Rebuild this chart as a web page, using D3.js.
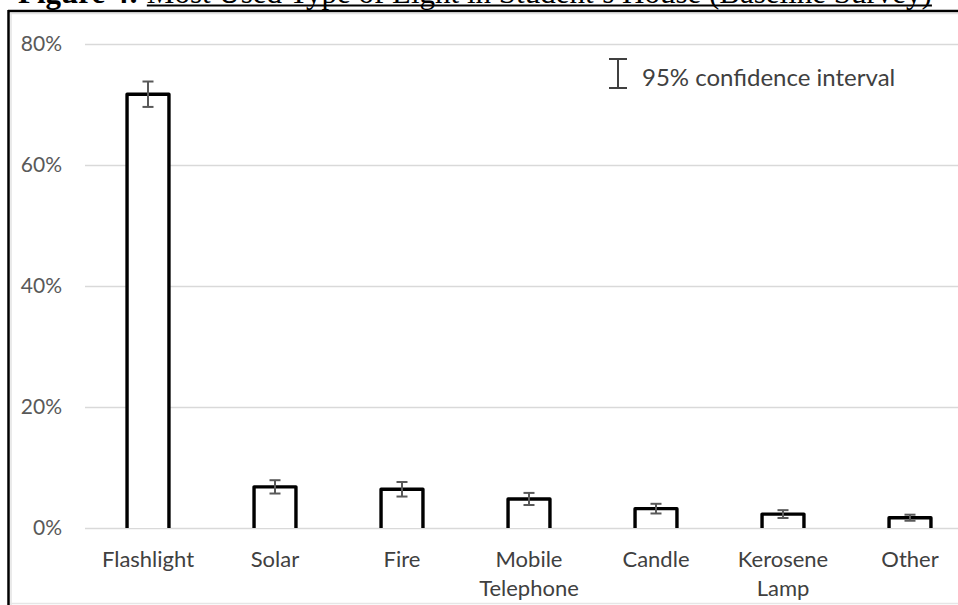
<!DOCTYPE html>
<html>
<head>
<meta charset="utf-8">
<script src="https://cdn.jsdelivr.net/npm/d3@7"></script>
<style>
  html, body { margin: 0; padding: 0; background: #fff; overflow: hidden; }
  svg { display: block; }
</style>
</head>
<body>
<svg id="chart" width="958" height="605"></svg>
<script>
// Most used type of light, share of students (with 95% CI half-widths)
const categories = ["Flashlight", "Solar", "Fire", "Mobile Telephone", "Candle", "Kerosene Lamp", "Other"];
const labelLines = [["Flashlight"], ["Solar"], ["Fire"], ["Mobile", "Telephone"], ["Candle"], ["Kerosene", "Lamp"], ["Other"]];
const shares = [0.717, 0.068, 0.064, 0.048, 0.032, 0.023, 0.017];
const ciHalf = [0.021, 0.011, 0.012, 0.010, 0.008, 0.0065, 0.005];
const yTicks = [0, 0.2, 0.4, 0.6, 0.8];
const titleLead = "Figure 4:";
const titleRest = "Most Used Type of Light in Student\u2019s House (Baseline Survey)";
const legendText = "95% confidence interval";

const W = 958, H = 605;
const svg = d3.select("#chart");
svg.append("rect").attr("width", W).attr("height", H).attr("fill", "#fff");

const sans = "Lato, 'Open Sans', sans-serif";

// Title (sits above the chart frame, mostly outside the page)
const title = svg.append("text")
  .attr("x", 18).attr("y", 3)
  .attr("font-family", "'Liberation Serif', 'Times New Roman', serif")
  .attr("font-size", 31)
  .attr("fill", "#000");
title.append("tspan").attr("font-weight", "bold").text(titleLead);
const restSpan = title.append("tspan").attr("dx", 8).text(titleRest);
const bb = restSpan.node().getBBox();
svg.append("line")
  .attr("x1", bb.x).attr("x2", bb.x + bb.width)
  .attr("y1", 5.5).attr("y2", 5.5)
  .attr("stroke", "#000").attr("stroke-width", 2);

// Chart frame
svg.append("line").attr("x1", 8).attr("x2", W).attr("y1", 11).attr("y2", 11)
  .attr("stroke", "#000").attr("stroke-width", 2.5);
svg.append("line").attr("x1", 8.5).attr("x2", 8.5).attr("y1", 10).attr("y2", H)
  .attr("stroke", "#000").attr("stroke-width", 2.5);
svg.append("line").attr("x1", 10).attr("x2", W).attr("y1", 13.5).attr("y2", 13.5)
  .attr("stroke", "#e3e3e3").attr("stroke-width", 1.5);
svg.append("line").attr("x1", 11).attr("x2", 11).attr("y1", 13).attr("y2", H)
  .attr("stroke", "#e3e3e3").attr("stroke-width", 1.5);
svg.append("line").attr("x1", 10).attr("x2", W).attr("y1", 603.5).attr("y2", 603.5)
  .attr("stroke", "#e6e6e6").attr("stroke-width", 1.5);

// Scales
const y = d3.scaleLinear().domain([0, 0.8]).range([528, 44]);
const x = d3.scaleBand().domain(categories).range([84.5, 973.5])
  .paddingInner(0.67).paddingOuter(0.335);

// Gridlines and y-axis labels
const yAxis = d3.axisLeft(y).tickValues(yTicks).tickFormat(d3.format(".0%"))
  .tickSize(-(W - 85)).tickPadding(23);
const gy = svg.append("g").attr("transform", "translate(85,0)").call(yAxis);
gy.select(".domain").remove();
gy.selectAll(".tick line").attr("stroke", "#d9d9d9").attr("stroke-width", 1.5);
gy.selectAll(".tick text")
  .attr("font-family", sans).attr("font-size", 21).attr("fill", "#595959");

// Bars: outlined, open at the baseline
svg.append("g").selectAll("path")
  .data(categories)
  .join("path")
  .attr("d", (c, i) => {
    const x0 = x(c), x1 = x(c) + x.bandwidth();
    return `M${x0},${y(0)}V${y(shares[i])}H${x1}V${y(0)}`;
  })
  .attr("fill", "#fff").attr("stroke", "#000").attr("stroke-width", 3.4)
  .attr("stroke-linejoin", "round");

// Error bars
const cap = 5.5;
const eg = svg.append("g").attr("stroke", "#595959").attr("stroke-width", 2);
categories.forEach((c, i) => {
  const cx = x(c) + x.bandwidth() / 2;
  const lo = y(shares[i] - ciHalf[i]), hi = y(shares[i] + ciHalf[i]);
  eg.append("line").attr("x1", cx).attr("x2", cx).attr("y1", lo).attr("y2", hi);
  eg.append("line").attr("x1", cx - cap).attr("x2", cx + cap).attr("y1", lo).attr("y2", lo);
  eg.append("line").attr("x1", cx - cap).attr("x2", cx + cap).attr("y1", hi).attr("y2", hi);
});

// Category labels
const xl = svg.append("g").attr("font-family", sans).attr("font-size", 22)
  .attr("fill", "#404040").attr("text-anchor", "middle");
categories.forEach((c, i) => {
  const t = xl.append("text").attr("x", x(c) + x.bandwidth() / 2).attr("y", 567);
  labelLines[i].forEach((ln, k) => {
    t.append("tspan").attr("x", x(c) + x.bandwidth() / 2).attr("dy", k === 0 ? 0 : 29).text(ln);
  });
});

// Legend: confidence interval symbol
const lg = svg.append("g").attr("stroke", "#404040").attr("stroke-width", 2);
lg.append("line").attr("x1", 618).attr("x2", 618).attr("y1", 59).attr("y2", 88);
lg.append("line").attr("x1", 609).attr("x2", 627).attr("y1", 59).attr("y2", 59);
lg.append("line").attr("x1", 609).attr("x2", 627).attr("y1", 88).attr("y2", 88);
svg.append("text").attr("x", 642).attr("y", 86)
  .attr("font-family", sans).attr("font-size", 24).attr("fill", "#404040")
  .text(legendText);
</script>
</body>
</html>
